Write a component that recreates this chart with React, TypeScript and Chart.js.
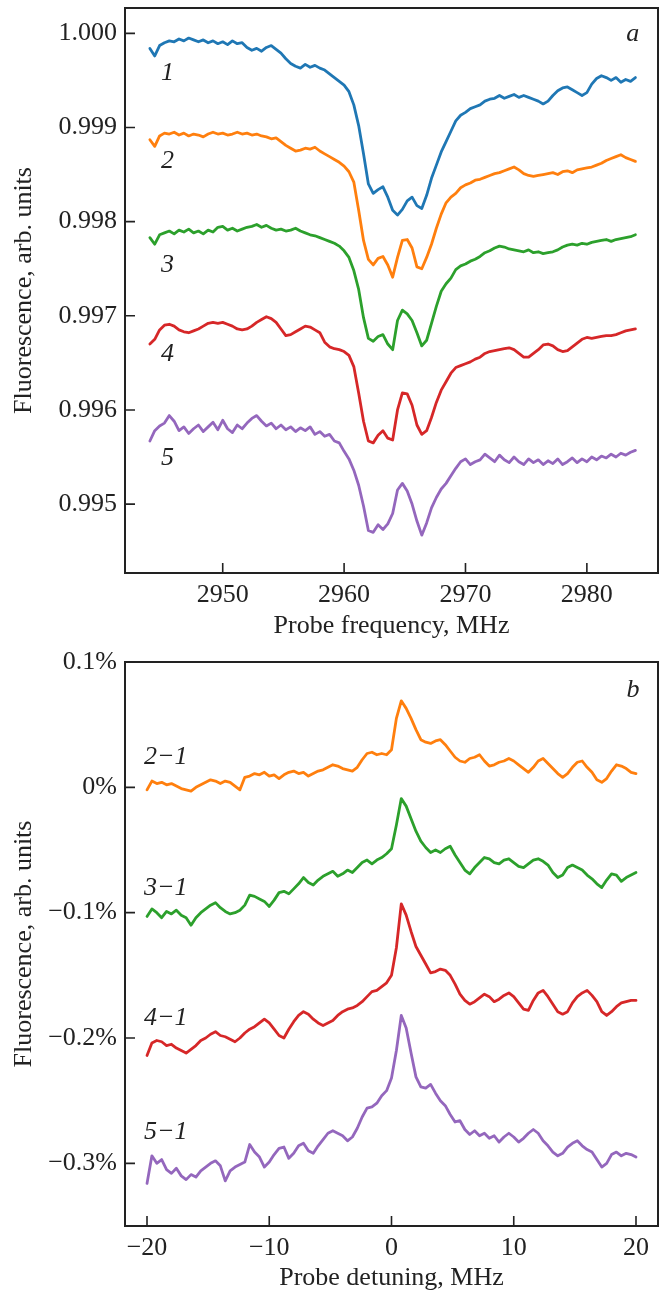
import React, { useEffect, useRef } from 'react';
import { Chart, registerables } from 'chart.js';

Chart.register(...registerables);

// ---------- data: panel a ----------
const FREQ = [2944,2944.4,2944.8,2945.2,2945.6,2946,2946.4,2946.8,2947.2,2947.6,2948,2948.4,2948.8,2949.2,2949.6,2950,2950.4,2950.8,2951.2,2951.6,2952,2952.4,2952.8,2953.2,2953.6,2954,2954.4,2954.8,2955.2,2955.6,2956,2956.4,2956.8,2957.2,2957.6,2958,2958.4,2958.8,2959.2,2959.6,2960,2960.4,2960.8,2961.2,2961.6,2962,2962.4,2962.8,2963.2,2963.6,2964,2964.4,2964.8,2965.2,2965.6,2966,2966.4,2966.8,2967.2,2967.6,2968,2968.4,2968.8,2969.2,2969.6,2970,2970.4,2970.8,2971.2,2971.6,2972,2972.4,2972.8,2973.2,2973.6,2974,2974.4,2974.8,2975.2,2975.6,2976,2976.4,2976.8,2977.2,2977.6,2978,2978.4,2978.8,2979.2,2979.6,2980,2980.4,2980.8,2981.2,2981.6,2982,2982.4,2982.8,2983.2,2983.6,2984];

const FLUOR_1 = [0.99984,0.99976,0.99987,0.99990,0.99992,0.99991,0.99994,0.99992,0.99995,0.99993,0.99991,0.99993,0.99990,0.99992,0.99989,0.99991,0.99988,0.99992,0.99989,0.99990,0.99985,0.99982,0.99984,0.99981,0.99985,0.99987,0.99983,0.99979,0.99973,0.99968,0.99965,0.99963,0.99967,0.99964,0.99966,0.99963,0.99961,0.99957,0.99953,0.99949,0.99945,0.99938,0.99924,0.99902,0.99872,0.99840,0.99830,0.99834,0.99837,0.99826,0.99812,0.99807,0.99813,0.99822,0.99826,0.99817,0.99814,0.99828,0.99846,0.99860,0.99874,0.99885,0.99896,0.99907,0.99913,0.99916,0.99920,0.99922,0.99924,0.99928,0.99930,0.99931,0.99934,0.99931,0.99933,0.99935,0.99932,0.99934,0.99932,0.99930,0.99928,0.99925,0.99928,0.99934,0.99939,0.99942,0.99943,0.99940,0.99937,0.99934,0.99937,0.99946,0.99952,0.99955,0.99953,0.99950,0.99953,0.99948,0.99951,0.99949,0.99953];

const FLUOR_2 = [0.99887,0.99880,0.99891,0.99894,0.99893,0.99895,0.99892,0.99894,0.99891,0.99893,0.99892,0.99890,0.99893,0.99895,0.99893,0.99894,0.99892,0.99893,0.99895,0.99893,0.99894,0.99892,0.99893,0.99891,0.99890,0.99888,0.99889,0.99885,0.99881,0.99878,0.99875,0.99876,0.99878,0.99877,0.99879,0.99875,0.99872,0.99869,0.99866,0.99863,0.99859,0.99853,0.99842,0.99812,0.99780,0.99760,0.99754,0.99761,0.99763,0.99754,0.99741,0.99762,0.99780,0.99781,0.99772,0.99752,0.99750,0.99762,0.99776,0.99793,0.99808,0.99820,0.99826,0.99830,0.99836,0.99839,0.99841,0.99844,0.99845,0.99847,0.99849,0.99851,0.99852,0.99854,0.99856,0.99858,0.99855,0.99851,0.99849,0.99848,0.99849,0.99850,0.99851,0.99852,0.99850,0.99853,0.99854,0.99852,0.99855,0.99856,0.99857,0.99858,0.99860,0.99862,0.99865,0.99867,0.99869,0.99871,0.99868,0.99866,0.99864];

const FLUOR_3 = [0.99783,0.99776,0.99786,0.99788,0.99790,0.99787,0.99791,0.99789,0.99792,0.99788,0.99790,0.99787,0.99791,0.99789,0.99794,0.99795,0.99791,0.99793,0.99790,0.99792,0.99794,0.99795,0.99797,0.99794,0.99796,0.99793,0.99791,0.99792,0.99790,0.99791,0.99793,0.99790,0.99788,0.99786,0.99785,0.99783,0.99781,0.99779,0.99777,0.99774,0.99769,0.99762,0.99748,0.99728,0.99698,0.99676,0.99673,0.99678,0.99680,0.99670,0.99664,0.99695,0.99706,0.99702,0.99695,0.99682,0.99668,0.99674,0.99692,0.99710,0.99726,0.99734,0.99740,0.99749,0.99753,0.99755,0.99758,0.99760,0.99763,0.99767,0.99769,0.99772,0.99774,0.99773,0.99771,0.99770,0.99769,0.99768,0.99770,0.99767,0.99768,0.99766,0.99767,0.99768,0.99770,0.99773,0.99775,0.99776,0.99775,0.99777,0.99776,0.99778,0.99779,0.99780,0.99781,0.99779,0.99781,0.99782,0.99783,0.99784,0.99786];

const FLUOR_4 = [0.99670,0.99675,0.99685,0.99690,0.99691,0.99689,0.99685,0.99683,0.99682,0.99684,0.99686,0.99689,0.99692,0.99693,0.99692,0.99693,0.99691,0.99689,0.99686,0.99685,0.99686,0.99689,0.99693,0.99696,0.99699,0.99697,0.99693,0.99686,0.99679,0.99680,0.99683,0.99686,0.99689,0.99688,0.99685,0.99682,0.99672,0.99667,0.99665,0.99664,0.99662,0.99658,0.99646,0.99618,0.99588,0.99567,0.99565,0.99573,0.99578,0.99570,0.99568,0.99600,0.99618,0.99617,0.99605,0.99584,0.99574,0.99578,0.99592,0.99608,0.99621,0.99630,0.99639,0.99645,0.99647,0.99649,0.99651,0.99654,0.99656,0.99660,0.99662,0.99663,0.99664,0.99665,0.99666,0.99664,0.99660,0.99656,0.99656,0.99660,0.99664,0.99669,0.99670,0.99668,0.99664,0.99662,0.99663,0.99667,0.99671,0.99675,0.99677,0.99676,0.99677,0.99678,0.99679,0.99679,0.99680,0.99682,0.99684,0.99685,0.99686];

const FLUOR_5 = [0.99567,0.99578,0.99583,0.99586,0.99594,0.99588,0.99578,0.99582,0.99575,0.99580,0.99584,0.99577,0.99582,0.99587,0.99579,0.99589,0.99580,0.99576,0.99584,0.99580,0.99586,0.99591,0.99594,0.99588,0.99583,0.99586,0.99580,0.99584,0.99579,0.99582,0.99577,0.99581,0.99578,0.99582,0.99574,0.99577,0.99572,0.99574,0.99567,0.99565,0.99556,0.99548,0.99536,0.99520,0.99498,0.99472,0.99470,0.99478,0.99473,0.99479,0.99490,0.99515,0.99522,0.99514,0.99500,0.99482,0.99467,0.99480,0.99496,0.99507,0.99516,0.99522,0.99530,0.99538,0.99545,0.99548,0.99542,0.99545,0.99547,0.99553,0.99549,0.99545,0.99552,0.99547,0.99544,0.99550,0.99545,0.99542,0.99548,0.99544,0.99547,0.99542,0.99546,0.99543,0.99548,0.99542,0.99545,0.99549,0.99544,0.99548,0.99545,0.99550,0.99547,0.99551,0.99549,0.99553,0.99550,0.99554,0.99552,0.99555,0.99557];

// ---------- data: panel b (percent) ----------
const DETUNE = [-20,-19.6,-19.2,-18.8,-18.4,-18,-17.6,-17.2,-16.8,-16.4,-16,-15.6,-15.2,-14.8,-14.4,-14,-13.6,-13.2,-12.8,-12.4,-12,-11.6,-11.2,-10.8,-10.4,-10,-9.6,-9.2,-8.8,-8.4,-8,-7.6,-7.2,-6.8,-6.4,-6,-5.6,-5.2,-4.8,-4.4,-4,-3.6,-3.2,-2.8,-2.4,-2,-1.6,-1.2,-0.8,-0.4,0,0.4,0.8,1.2,1.6,2,2.4,2.8,3.2,3.6,4,4.4,4.8,5.2,5.6,6,6.4,6.8,7.2,7.6,8,8.4,8.8,9.2,9.6,10,10.4,10.8,11.2,11.6,12,12.4,12.8,13.2,13.6,14,14.4,14.8,15.2,15.6,16,16.4,16.8,17.2,17.6,18,18.4,18.8,19.2,19.6,20];

const DIFF_2_1 = [-0.002,0.005,0.003,0.004,0.002,0.003,0.001,-0.001,-0.002,-0.003,0.000,0.002,0.004,0.006,0.005,0.003,0.005,0.004,0.001,-0.002,0.008,0.009,0.011,0.010,0.012,0.009,0.010,0.007,0.010,0.012,0.013,0.011,0.012,0.009,0.011,0.013,0.014,0.016,0.018,0.017,0.015,0.014,0.013,0.016,0.022,0.027,0.028,0.026,0.027,0.026,0.030,0.055,0.069,0.063,0.055,0.046,0.038,0.036,0.035,0.037,0.038,0.034,0.029,0.024,0.021,0.020,0.023,0.024,0.026,0.021,0.017,0.018,0.020,0.021,0.023,0.021,0.018,0.015,0.012,0.016,0.021,0.023,0.019,0.015,0.011,0.008,0.011,0.016,0.020,0.021,0.016,0.012,0.006,0.004,0.007,0.013,0.018,0.017,0.015,0.012,0.011];

const DIFF_3_1 = [-0.103,-0.097,-0.100,-0.104,-0.099,-0.101,-0.098,-0.102,-0.104,-0.110,-0.104,-0.100,-0.097,-0.094,-0.092,-0.096,-0.099,-0.101,-0.100,-0.098,-0.094,-0.086,-0.087,-0.089,-0.091,-0.095,-0.090,-0.084,-0.083,-0.085,-0.081,-0.077,-0.072,-0.076,-0.078,-0.074,-0.071,-0.069,-0.067,-0.071,-0.069,-0.066,-0.068,-0.064,-0.060,-0.058,-0.061,-0.058,-0.056,-0.053,-0.049,-0.030,-0.009,-0.015,-0.025,-0.035,-0.043,-0.048,-0.052,-0.050,-0.052,-0.049,-0.047,-0.054,-0.060,-0.066,-0.069,-0.064,-0.060,-0.056,-0.057,-0.060,-0.061,-0.058,-0.057,-0.060,-0.063,-0.064,-0.061,-0.058,-0.057,-0.059,-0.062,-0.068,-0.072,-0.070,-0.064,-0.062,-0.064,-0.066,-0.070,-0.073,-0.077,-0.080,-0.074,-0.069,-0.070,-0.075,-0.072,-0.070,-0.068];

const DIFF_4_1 = [-0.214,-0.204,-0.202,-0.203,-0.206,-0.205,-0.208,-0.210,-0.212,-0.209,-0.206,-0.202,-0.200,-0.197,-0.195,-0.198,-0.199,-0.201,-0.203,-0.200,-0.196,-0.193,-0.191,-0.188,-0.185,-0.188,-0.193,-0.198,-0.200,-0.193,-0.187,-0.182,-0.179,-0.181,-0.185,-0.188,-0.190,-0.188,-0.186,-0.182,-0.179,-0.177,-0.176,-0.174,-0.171,-0.167,-0.163,-0.162,-0.159,-0.156,-0.150,-0.128,-0.093,-0.102,-0.115,-0.127,-0.134,-0.141,-0.148,-0.147,-0.145,-0.146,-0.150,-0.157,-0.165,-0.170,-0.173,-0.171,-0.168,-0.165,-0.167,-0.171,-0.169,-0.166,-0.164,-0.167,-0.172,-0.177,-0.178,-0.170,-0.164,-0.162,-0.167,-0.173,-0.179,-0.181,-0.179,-0.172,-0.167,-0.164,-0.162,-0.166,-0.171,-0.179,-0.182,-0.179,-0.175,-0.172,-0.171,-0.170,-0.170];

const DIFF_5_1 = [-0.316,-0.294,-0.300,-0.297,-0.305,-0.308,-0.304,-0.310,-0.313,-0.309,-0.311,-0.306,-0.303,-0.300,-0.298,-0.302,-0.314,-0.306,-0.303,-0.301,-0.299,-0.285,-0.291,-0.295,-0.303,-0.299,-0.293,-0.288,-0.287,-0.296,-0.292,-0.286,-0.284,-0.290,-0.292,-0.286,-0.281,-0.276,-0.274,-0.276,-0.278,-0.282,-0.279,-0.272,-0.263,-0.256,-0.255,-0.252,-0.246,-0.242,-0.232,-0.210,-0.182,-0.192,-0.212,-0.231,-0.239,-0.240,-0.237,-0.244,-0.250,-0.254,-0.261,-0.267,-0.266,-0.273,-0.277,-0.274,-0.278,-0.276,-0.280,-0.278,-0.283,-0.279,-0.276,-0.279,-0.283,-0.280,-0.276,-0.273,-0.276,-0.282,-0.286,-0.291,-0.294,-0.292,-0.287,-0.284,-0.282,-0.286,-0.289,-0.291,-0.297,-0.303,-0.300,-0.293,-0.291,-0.294,-0.292,-0.293,-0.295];

// ---------- ticks ----------
const X_TICKS_A = [2950, 2960, 2970, 2980];
const Y_TICKS_A = [0.995, 0.996, 0.997, 0.998, 0.999, 1.0];
const X_TICKS_B = [-20, -10, 0, 10, 20];
const Y_TICKS_B = [0.1, 0, -0.1, -0.2, -0.3];

// ---------- curve labels (data coordinates of the text baseline) ----------
const NOTES_A = [
  { text: '1', x: 2945.45, y: 0.999505, italic: true },
  { text: '2', x: 2945.45, y: 0.998568, italic: true },
  { text: '3', x: 2945.45, y: 0.997461, italic: true },
  { text: '4', x: 2945.45, y: 0.996517, italic: true },
  { text: '5', x: 2945.45, y: 0.995411, italic: true },
  { text: 'a', x: 2983.77, y: 0.999922, italic: true },
];
const NOTES_B = [
  { text: '2\u22121', x: -18.46, y: 0.0186, italic: true },
  { text: '3\u22121', x: -18.46, y: -0.0857, italic: true },
  { text: '4\u22121', x: -18.46, y: -0.1899, italic: true },
  { text: '5\u22121', x: -18.46, y: -0.2802, italic: true },
  { text: 'b', x: 19.75, y: 0.0717, italic: true },
];

const COLORS = ['#1f77b4', '#ff7f0e', '#2ca02c', '#d62728', '#9467bd'];
const FAMILY = '"Liberation Serif", "Times New Roman", serif';
const INK = '#222222';
const W = 660;

const pts = (xs: number[], ys: number[]) => xs.map((x, i) => ({ x, y: ys[i] }));
const minus = (s: string) => s.replace('-', '\u2212');

function makeFrame(notes: any[]) {
  return {
    id: 'frame',
    afterDraw(chart: any) {
      const { ctx, chartArea: a, scales } = chart;
      ctx.save();
      ctx.strokeStyle = INK;
      ctx.lineWidth = 2;
      ctx.strokeRect(a.left, a.top, a.right - a.left, a.bottom - a.top);
      ctx.lineWidth = 1.6;
      ctx.beginPath();
      scales.x.ticks.forEach((t: any) => {
        const p = scales.x.getPixelForValue(t.value);
        ctx.moveTo(p, a.bottom);
        ctx.lineTo(p, a.bottom - 10);
      });
      scales.y.ticks.forEach((t: any) => {
        const p = scales.y.getPixelForValue(t.value);
        ctx.moveTo(a.left, p);
        ctx.lineTo(a.left + 10, p);
      });
      ctx.stroke();
      ctx.fillStyle = INK;
      ctx.textAlign = 'center';
      ctx.textBaseline = 'alphabetic';
      notes.forEach((n) => {
        ctx.font = `${n.italic ? 'italic ' : ''}26px ${FAMILY}`;
        ctx.fillText(n.text, scales.x.getPixelForValue(n.x), scales.y.getPixelForValue(n.y));
      });
      ctx.restore();
    },
  };
}

function makeConfig(p: any) {
  const font = { family: FAMILY, size: 26 };
  return {
    type: 'line',
    data: {
      datasets: p.series.map((ys: number[], i: number) => ({
        data: pts(p.xs, ys),
        borderColor: p.colors[i],
        borderWidth: 2.8,
        borderJoinStyle: 'round',
        borderCapStyle: 'round',
        pointRadius: 0,
        fill: false,
        tension: 0,
      })),
    },
    options: {
      responsive: false,
      animation: false,
      devicePixelRatio: 1,
      layout: { padding: { top: p.padTop, right: 2, left: 0, bottom: 0 } },
      plugins: { legend: { display: false }, tooltip: { enabled: false } },
      scales: {
        x: {
          type: 'linear',
          min: p.xMin,
          max: p.xMax,
          grid: { display: false, drawTicks: false },
          border: { display: false },
          afterBuildTicks: (s: any) => { s.ticks = p.xTicks.map((v: number) => ({ value: v })); },
          afterFit: (s: any) => { s.height = p.xH; s.paddingLeft = 0; s.paddingRight = 0; },
          ticks: { font, color: INK, padding: 7, maxRotation: 0, autoSkip: false, callback: p.xFmt },
          title: { display: true, text: p.xTitle, font, color: INK, padding: { top: 0, bottom: p.xTitlePad } },
        },
        y: {
          type: 'linear',
          min: p.yMin,
          max: p.yMax,
          grid: { display: false, drawTicks: false },
          border: { display: false },
          afterBuildTicks: (s: any) => { s.ticks = p.yTicks.map((v: number) => ({ value: v })); },
          afterFit: (s: any) => { s.width = 125; s.paddingTop = 0; s.paddingBottom = 0; },
          ticks: { font, color: INK, padding: 8, autoSkip: false, callback: p.yFmt },
          title: { display: true, text: 'Fluorescence, arb. units', font, color: INK, padding: { top: 9, bottom: 0 } },
        },
      },
    },
    plugins: [makeFrame(p.notes)],
  };
}

function Panel({ cfg, top, height }: { cfg: () => any; top: number; height: number }) {
  const ref = useRef<HTMLCanvasElement | null>(null);
  useEffect(() => {
    const chart = new Chart(ref.current as HTMLCanvasElement, cfg());
    return () => chart.destroy();
  }, []);
  return (
    <canvas
      ref={ref}
      width={W}
      height={height}
      style={{ position: 'absolute', left: 0, top, width: W, height, display: 'block' }}
    />
  );
}

const cfgA = () =>
  makeConfig({
    xs: FREQ,
    series: [FLUOR_1, FLUOR_2, FLUOR_3, FLUOR_4, FLUOR_5],
    colors: COLORS,
    xMin: 2941.95,
    xMax: 2985.86,
    yMin: 0.994268,
    yMax: 1.000269,
    xTicks: X_TICKS_A,
    yTicks: Y_TICKS_A,
    xFmt: (v: number) => String(v),
    yFmt: (v: number) => v.toFixed(3),
    xTitle: 'Probe frequency, MHz',
    xTitlePad: 3.5,
    xH: 72,
    padTop: 8,
    notes: NOTES_A,
  });

const cfgB = () =>
  makeConfig({
    xs: DETUNE,
    series: [DIFF_2_1, DIFF_3_1, DIFF_4_1, DIFF_5_1],
    colors: COLORS.slice(1),
    xMin: -21.8,
    xMax: 21.8,
    yMin: -0.35,
    yMax: 0.1,
    xTicks: X_TICKS_B,
    yTicks: Y_TICKS_B,
    xFmt: (v: number) => minus(String(v)),
    yFmt: (v: number) => (Math.abs(v) < 1e-9 ? '0%' : minus(v.toFixed(1)) + '%'),
    xTitle: 'Probe detuning, MHz',
    xTitlePad: 3,
    xH: 71,
    padTop: 17,
    notes: NOTES_B,
  });

export default function App() {
  return (
    <div style={{ position: 'absolute', left: 0, top: 0, width: W, height: 1297, background: '#fff' }}>
      <Panel cfg={cfgA} top={0} height={645} />
      <Panel cfg={cfgB} top={645} height={652} />
    </div>
  );
}
